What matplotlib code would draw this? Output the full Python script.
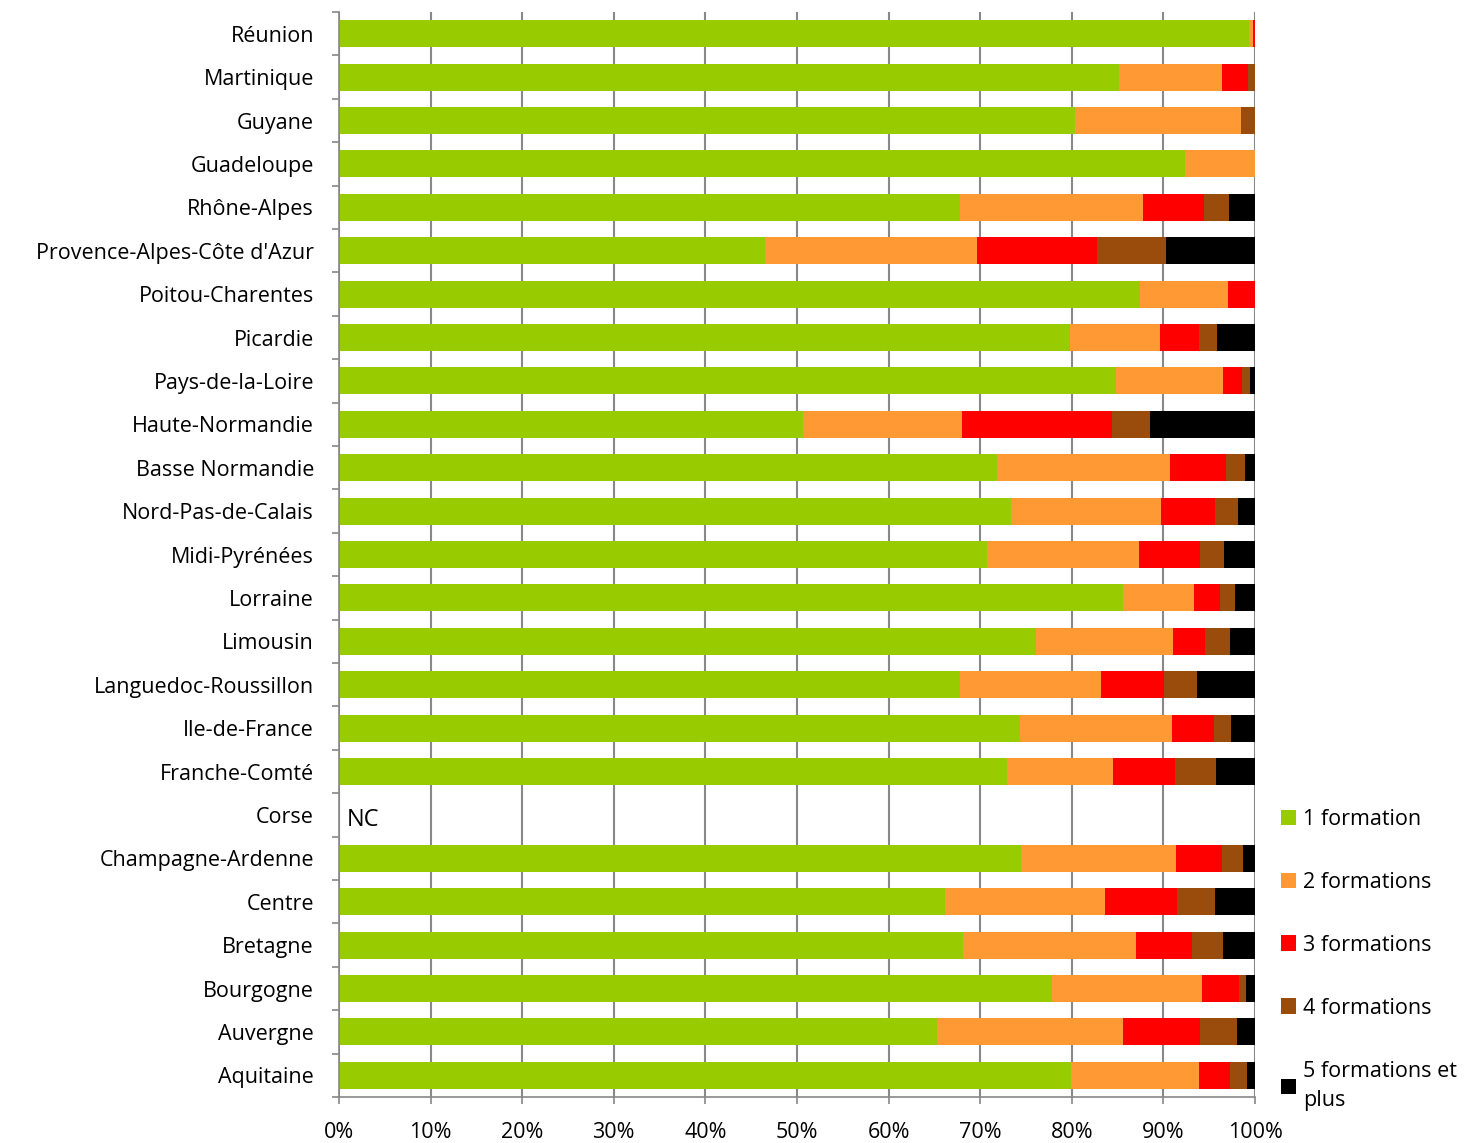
import matplotlib
matplotlib.use("Agg")
import matplotlib.pyplot as plt
import numpy as np

regions = ["Réunion", "Martinique", "Guyane", "Guadeloupe", "Rhône-Alpes",
           "Provence-Alpes-Côte d'Azur", "Poitou-Charentes", "Picardie",
           "Pays-de-la-Loire", "Haute-Normandie", "Basse Normandie",
           "Nord-Pas-de-Calais", "Midi-Pyrénées", "Lorraine", "Limousin",
           "Languedoc-Roussillon", "Ile-de-France", "Franche-Comté", "Corse",
           "Champagne-Ardenne", "Centre", "Bretagne", "Bourgogne", "Auvergne",
           "Aquitaine"]

nan = np.nan
f1 = [99.3, 85.2, 80.3, 92.4, 67.8, 46.5, 87.4, 79.8, 84.8, 50.7, 71.8, 73.4, 70.7,
      85.6, 76.1, 67.8, 74.3, 72.9, nan, 74.4, 66.2, 68.1, 77.8, 65.3, 79.9]
f2 = [0.5, 11.2, 18.2, 7.6, 20.0, 23.1, 9.6, 9.8, 11.7, 17.3, 18.9, 16.3, 16.6,
      7.7, 15.0, 15.4, 16.6, 11.6, nan, 17.0, 17.4, 18.9, 16.4, 20.3, 14.0]
f3 = [0.2, 2.8, 0.0, 0.0, 6.6, 13.1, 3.0, 4.3, 2.1, 16.4, 6.1, 5.9, 6.7,
      2.9, 3.4, 6.9, 4.6, 6.8, nan, 5.0, 7.9, 6.1, 4.0, 8.4, 3.4]
f4 = [0.0, 0.8, 1.5, 0.0, 2.8, 7.6, 0.0, 1.9, 0.8, 4.1, 2.1, 2.5, 2.6,
      1.6, 2.8, 3.6, 1.9, 4.4, nan, 2.3, 4.1, 3.4, 0.8, 4.0, 1.8]
f5 = [0.0, 0.0, 0.0, 0.0, 2.8, 9.7, 0.0, 4.2, 0.6, 11.5, 1.1, 1.9, 3.4,
      2.2, 2.7, 6.3, 2.6, 4.3, nan, 1.3, 4.4, 3.5, 1.0, 2.0, 0.9]

series_labels = ["1 formation", "2 formations", "3 formations", "4 formations",
                 "5 formations et\nplus"]
colors = ["#99CC00", "#FF9933", "#FF0000", "#994C0C", "#000000"]
xtick_labels = [f"{v}%" for v in range(0, 101, 10)]

plt.rcParams['font.family'] = ['Open Sans', 'DejaVu Sans']
FS = 15.5

fig = plt.figure(figsize=(14.72, 11.43), dpi=100)
ax = fig.add_axes([339/1472, 1 - 1097/1143, (1255-339)/1472, (1097-12)/1143])

n = len(regions)
y = np.arange(n)[::-1]
data = [np.array(s, dtype=float) for s in [f1, f2, f3, f4, f5]]
left = np.zeros(n)
handles = []
for vals, col, lab in zip(data, colors, series_labels):
    v = np.nan_to_num(vals)
    h = ax.barh(y, v, left=left, height=0.62, color=col, label=lab,
                edgecolor='none', zorder=2)
    handles.append(h)
    left = left + v

ax.set_xlim(0, 100)
ax.set_ylim(-0.5, n - 0.5)
ax.set_xticks(range(0, 101, 10))
ax.set_xticklabels(xtick_labels, fontsize=FS)
ax.set_yticks(y)
ax.set_yticklabels(regions, fontsize=FS)
ax.tick_params(axis='y', length=0, pad=18)
ax.set_yticks(np.arange(-0.5, n, 1), minor=True)
ax.tick_params(axis='y', which='minor', length=5, color='#888888', width=1.2)
ax.tick_params(axis='x', length=5, color='#888888', width=1.2, pad=13)
ax.xaxis.grid(True, color='#888888', linewidth=1.5, zorder=0)
ax.set_axisbelow(True)
for s in ['top', 'right']:
    ax.spines[s].set_visible(False)
for s in ['left', 'bottom']:
    ax.spines[s].set_color('#888888')
    ax.spines[s].set_linewidth(1.2)

corse_idx = regions.index("Corse")
ax.text(0.9, y[corse_idx] - 0.12, "NC", fontsize=17, va='center', ha='left')

leg = fig.legend(handles=handles, labels=series_labels, loc='upper left',
                 bbox_to_anchor=(1272/1472, 1 - 800/1143), frameon=False,
                 fontsize=FS, handlelength=0.7, handleheight=0.7,
                 handletextpad=0.35, labelspacing=1.95, borderaxespad=0)
for t in leg.get_texts():
    t.set_linespacing(1.55)

fig.savefig("out.png", dpi=100)
